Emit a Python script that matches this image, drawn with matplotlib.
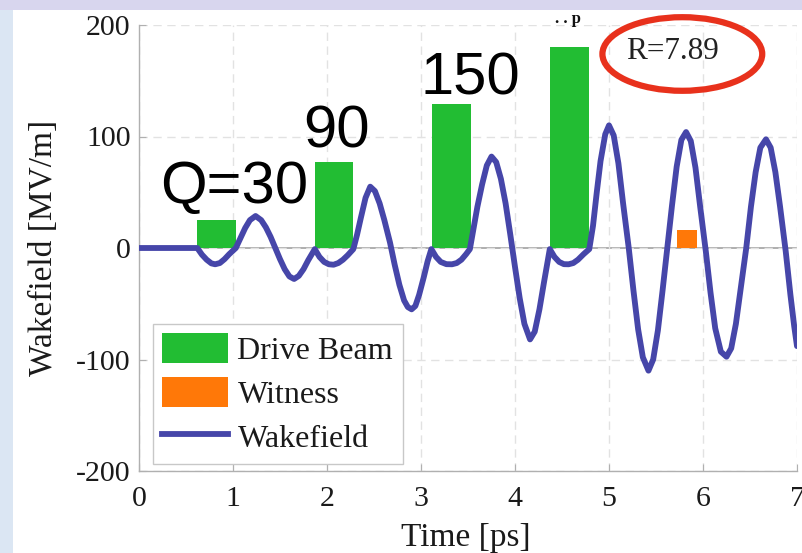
import matplotlib
matplotlib.use("Agg")
import matplotlib.pyplot as plt
from matplotlib.patches import Patch, Ellipse, Rectangle
from matplotlib.lines import Line2D

# Wakefield trace [MV/m] versus time [ps]
time_ps = [0.00, 0.62, 0.67, 0.72, 0.77, 0.81, 0.86, 0.91, 0.96, 1.03,
           1.08, 1.13, 1.18, 1.24, 1.30, 1.35, 1.40, 1.45, 1.50, 1.55,
           1.60, 1.65, 1.70, 1.75, 1.80, 1.87,
           1.92, 1.97, 2.02, 2.07, 2.12, 2.17, 2.22, 2.28,
           2.32, 2.36, 2.41, 2.46, 2.51, 2.56, 2.61, 2.67, 2.72, 2.77,
           2.82, 2.86, 2.90, 2.94, 2.98, 3.03, 3.07, 3.11,
           3.16, 3.21, 3.27, 3.33, 3.38, 3.43, 3.48, 3.52,
           3.56, 3.60, 3.65, 3.70, 3.75, 3.80, 3.85, 3.90, 3.95, 4.00,
           4.05, 4.10, 4.16, 4.21, 4.26, 4.31, 4.37,
           4.42, 4.47, 4.52, 4.57, 4.62, 4.67, 4.73, 4.79,
           4.83, 4.87, 4.91, 4.96, 5.00, 5.05, 5.10, 5.15, 5.21, 5.26,
           5.31, 5.36, 5.42, 5.47, 5.52, 5.57, 5.62, 5.67, 5.72, 5.77,
           5.82, 5.87, 5.92, 5.97, 6.03, 6.08, 6.13, 6.19, 6.25, 6.30,
           6.35, 6.40, 6.46, 6.51, 6.56, 6.61, 6.67, 6.72, 6.77, 6.82,
           6.88, 6.93, 6.97, 7.00]
wake_mvm = [0, 0, -6, -10.5, -13.8, -14.6, -13.5, -10, -5.5, 0,
            9, 18, 25, 28.7, 25, 18.5, 10, 0, -10, -19,
            -25.5, -27.8, -25, -19, -11, -1,
            -8, -12.5, -14.6, -15, -13.5, -10.5, -6.5, -1,
            12, 27, 45, 55, 51, 40, 25, 5, -15, -33,
            -47, -53, -55, -52, -42, -26, -12, -1,
            -8, -12.5, -14.5, -14.6, -13.5, -10.5, -5.5, -1,
            18, 37, 57, 74, 82, 77, 62, 40, 12, -17,
            -45, -68, -82, -75, -55, -30, -1,
            -8, -12.5, -14.5, -14.6, -13.5, -10.5, -5.5, -1,
            20, 50, 78, 102, 110, 101, 76, 40, 0, -38,
            -73, -98, -110, -100, -74, -38, 0, 38, 73, 97,
            104, 96, 72, 37, -3, -40, -72, -93, -97.5, -90,
            -68, -37, 0, 37, 68, 90, 97.5, 90, 68, 37,
            -3, -42, -70, -88]

# Drive bunches: start time, duration, height
drive_start = [0.62, 1.87, 3.12, 4.37]
drive_width = [0.415, 0.41, 0.41, 0.415]
drive_height = [25, 77, 129, 180]
drive_labels = ["Q=30", "90", "150"]
drive_label_pos = [(0.22, 40.5), (1.745, 90), (2.99, 138)]

# Witness bunch
witness_start = [5.72]
witness_width = [0.22]
witness_height = [16]

x_ticks = [0, 1, 2, 3, 4, 5, 6, 7]
y_ticks = [-200, -100, 0, 100, 200]

plt.rcParams["axes.unicode_minus"] = False
serif = ["Liberation Serif", "DejaVu Serif"]
sans = ["Liberation Sans", "DejaVu Sans"]

W, H = 803, 553
fig = plt.figure(figsize=(W / 100, H / 100), dpi=100, facecolor="white")

# slide background around the figure panel
fig.patches.append(Rectangle((0, 0), 13 / W, 1, transform=fig.transFigure,
                             facecolor="#dbe6f3", edgecolor="none", zorder=0))
fig.patches.append(Rectangle((0, 1 - 10 / H), 1, 10 / H, transform=fig.transFigure,
                             facecolor="#d8d6ee", edgecolor="none", zorder=0))

ax = fig.add_axes([139 / W, 1 - 471 / H, (797 - 139) / W, (471 - 25) / H])
ax.set_facecolor("none")

ax.set_xlim(0, 7)
ax.set_ylim(-200, 200)
ax.set_xticks(x_ticks)
ax.set_yticks(y_ticks)

ax.grid(True, color="#e2e2e2", linestyle=(0, (6, 4)), linewidth=1.0, zorder=0)
ax.axhline(0, color="#a8a8a8", linewidth=1.3, zorder=1)

for side in ["top", "right"]:
    ax.spines[side].set_visible(False)
for side in ["left", "bottom"]:
    ax.spines[side].set_color("#b0b0b0")
    ax.spines[side].set_linewidth(1.0)

ax.tick_params(axis="both", direction="in", length=5, color="#b0b0b0",
               labelsize=21.5, labelcolor="#1a1a1a")
ax.tick_params(axis="x", pad=11)
ax.tick_params(axis="y", pad=6)
for lab in ax.get_xticklabels() + ax.get_yticklabels():
    lab.set_family(serif)

green = "#22bd33"
orange = "#ff7808"
blue = "#4646a9"

ax.bar(drive_start, drive_height, width=drive_width, align="edge",
       color=green, edgecolor="none", zorder=2)
ax.bar(witness_start, witness_height, width=witness_width, align="edge",
       color=orange, edgecolor="none", zorder=2)
ax.plot(time_ps, wake_mvm, color=blue, linewidth=4.2, zorder=3,
        solid_joinstyle="round", solid_capstyle="round")

for txt, (tx, ty) in zip(drive_labels, drive_label_pos):
    ax.text(tx, ty, txt, fontsize=43, family=sans, color="black",
            ha="left", va="baseline", zorder=4)

ax.set_xlabel("Time [ps]", fontsize=24, family=serif, color="#1a1a1a")
ax.xaxis.set_label_coords(0.496, -(546 - 471) / 446)
ax.xaxis.label.set_va("baseline")
ax.set_ylabel("Wakefield [MV/m]", fontsize=24, family=serif, color="#1a1a1a")
ax.yaxis.set_label_coords((59 - 139) / 658, 0.5)

# highlighted ratio
ax.add_patch(Ellipse((5.78, 174), 1.70, 66, facecolor="none", edgecolor="#e8311c",
                     linewidth=4.5, clip_on=False, zorder=5))
ax.text(5.67, 176, "R=7.89", fontsize=22.5, family=serif, color="#222222",
        ha="center", va="center", zorder=5)

fig.text(568 / W, 1 - 19 / H, ". . p", fontsize=12, family=serif,
         fontweight="bold", ha="center", va="center", color="#111111")

handles = [Patch(facecolor=green, edgecolor="none"),
           Patch(facecolor=orange, edgecolor="none"),
           Line2D([], [], color=blue, linewidth=4.2)]
leg = ax.legend(handles, ["Drive Beam", "Witness", "Wakefield"],
                loc="lower left", bbox_to_anchor=(0.021, 0.016), borderaxespad=0,
                prop={"family": serif, "size": 23}, fancybox=False,
                framealpha=1, edgecolor="#c8c8c8", handlelength=2.05,
                handleheight=1.05, handletextpad=0.3, labelspacing=0.36,
                borderpad=0.3)
leg.get_frame().set_linewidth(1.0)
for t in leg.get_texts():
    t.set_color("#1a1a1a")

fig.savefig("out.png", dpi=100, facecolor="white")
